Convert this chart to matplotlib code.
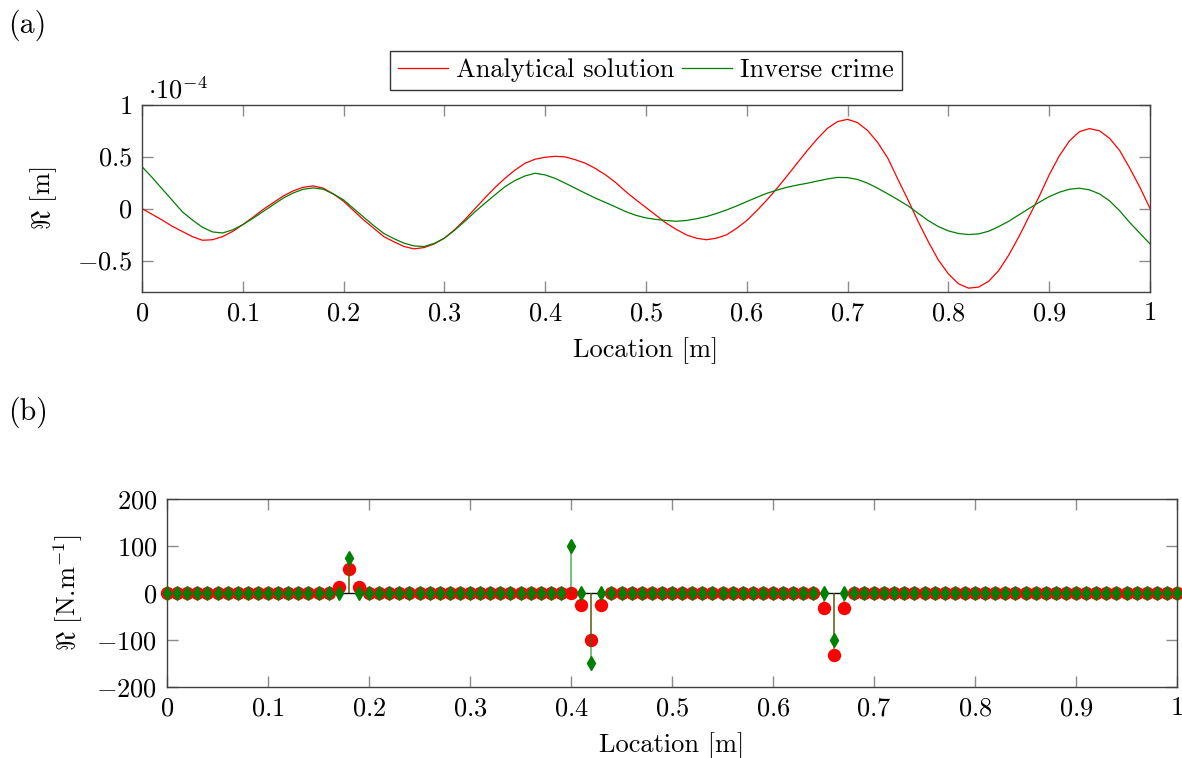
import numpy as np
import matplotlib
matplotlib.use("Agg")
import matplotlib.pyplot as plt
from matplotlib.ticker import FuncFormatter, MultipleLocator

plt.rcParams["font.family"] = "serif"
plt.rcParams["font.serif"] = ["cmr10"]
plt.rcParams["mathtext.fontset"] = "cm"
plt.rcParams["axes.formatter.use_mathtext"] = True
plt.rcParams["font.size"] = 19

# (a) displacement at x = 0, 0.01, ..., 1 ; values in units of 1e-4 m
location = [i / 100 for i in range(101)]
analytical = [0.00, -0.055, -0.11, -0.17, -0.22, -0.27, -0.305, -0.30, -0.27, -0.22,
              -0.155, -0.085, -0.01, 0.055, 0.12, 0.17, 0.205, 0.218, 0.196, 0.14,
              0.07, -0.02, -0.11, -0.19, -0.27, -0.32, -0.365, -0.388, -0.375, -0.34,
              -0.285, -0.205, -0.11, -0.005, 0.10, 0.20, 0.29, 0.37, 0.436, 0.475,
              0.494, 0.503, 0.497, 0.47, 0.436, 0.385, 0.324, 0.25, 0.163, 0.085,
              0.01, -0.065, -0.14, -0.20, -0.253, -0.285, -0.30, -0.285, -0.253, -0.19,
              -0.115, -0.02, 0.083, 0.195, 0.314, 0.437, 0.558, 0.672, 0.772, 0.837,
              0.859, 0.827, 0.75, 0.635, 0.484, 0.28, 0.083, -0.125, -0.317, -0.494,
              -0.628, -0.724, -0.766, -0.756, -0.70, -0.596, -0.446, -0.27, -0.077, 0.115,
              0.324, 0.506, 0.65, 0.74, 0.77, 0.748, 0.676, 0.558, 0.388, 0.205,
              0.003]
inverse = [0.404, 0.30, 0.19, 0.08, -0.03, -0.11, -0.18, -0.225, -0.235, -0.205,
           -0.155, -0.095, -0.03, 0.035, 0.10, 0.15, 0.186, 0.199, 0.186, 0.14,
           0.083, 0.0, -0.083, -0.165, -0.24, -0.29, -0.333, -0.36, -0.365, -0.335,
           -0.285, -0.21, -0.125, -0.035, 0.05, 0.13, 0.21, 0.27, 0.314, 0.34,
           0.324, 0.29, 0.244, 0.195, 0.147, 0.10, 0.058, 0.015, -0.03, -0.065,
           -0.09, -0.105, -0.115, -0.122, -0.115, -0.098, -0.077, -0.047, -0.013, 0.025,
           0.067, 0.108, 0.147, 0.178, 0.205, 0.226, 0.244, 0.265, 0.285, 0.30,
           0.298, 0.28, 0.244, 0.195, 0.141, 0.085, 0.026, -0.045, -0.115, -0.173,
           -0.215, -0.24, -0.25, -0.244, -0.218, -0.173, -0.122, -0.06, 0.0, 0.06,
           0.115, 0.157, 0.186, 0.196, 0.18, 0.141, 0.074, -0.022, -0.135, -0.237,
           -0.34]

# (b) force at the 101 nodes; zero except at these nodes
nodes = [i / 100 for i in range(101)]
analytical_spike_at = [0.17, 0.18, 0.19, 0.41, 0.42, 0.43, 0.65, 0.66, 0.67]
analytical_spike_val = [13, 51, 13, -25, -100, -25, -32, -132, -32]
inverse_spike_at = [0.18, 0.40, 0.42, 0.66]
inverse_spike_val = [75, 100, -150, -100]

RED = "#ff0000"
GREEN = "#008000"

fmt = FuncFormatter(lambda v, p: "$%g$" % round(v, 6))


def style_axes(ax):
    ax.tick_params(direction="in", which="both", top=True, right=True,
                   length=8, width=1, color="0.55", pad=7)
    for s in ax.spines.values():
        s.set_color("0.25")
        s.set_linewidth(1.0)
    ax.xaxis.set_major_formatter(fmt)
    ax.yaxis.set_major_formatter(fmt)
    ax.xaxis.set_major_locator(MultipleLocator(0.1))


fig = plt.figure(figsize=(11.82, 7.58), dpi=100)

# ---- panel (a)
ax1 = fig.add_axes([0.1201, 0.6152, 0.8528, 0.2467])
ax1.plot(location, analytical, color=RED, lw=0.9, label="Analytical solution")
ax1.plot(location, inverse, color=GREEN, lw=0.9, label="Inverse crime")
ax1.set_xlim(0, 1)
ax1.set_ylim(-0.8, 1.0)
ax1.set_yticks([-0.5, 0, 0.5, 1])
style_axes(ax1)
ax1.set_xlabel("Location [m]", labelpad=9)
ax1.set_ylabel(r"$\Re$ [m]")
ax1.yaxis.set_label_coords(-0.082, 0.5)
ax1.text(0.006, 1.005, r"$\cdot 10^{-4}$", transform=ax1.transAxes,
         ha="left", va="bottom")
ax1.legend(loc="lower center", bbox_to_anchor=(0.5, 1.078), ncol=2,
           frameon=True, fancybox=False, edgecolor="0.2", framealpha=1,
           handlelength=1.9, handletextpad=0.3, columnspacing=0.3,
           borderpad=0.3, borderaxespad=0)

# ---- panel (b)
ax2 = fig.add_axes([0.1413, 0.0941, 0.8545, 0.2472])
an_force = np.zeros(len(nodes))
inv_force = np.zeros(len(nodes))
for p, v in zip(analytical_spike_at, analytical_spike_val):
    an_force[int(round(p * 100))] = v
for p, v in zip(inverse_spike_at, inverse_spike_val):
    inv_force[int(round(p * 100))] = v

ax2.axhline(0, color="black", lw=1, zorder=1)
ax2.vlines(nodes, 0, an_force, color=RED, lw=1.2, alpha=0.6, zorder=2)
ax2.plot(nodes, an_force, "o", color=RED, ms=8.6, mec=RED, clip_on=False, zorder=3)
ax2.vlines(nodes, 0, inv_force, color=GREEN, lw=1.2, alpha=0.6, zorder=4)
ax2.plot(nodes, inv_force, "d", color=GREEN, ms=7.5, mec=GREEN, clip_on=False, zorder=5)
ax2.set_xlim(0, 1)
ax2.set_ylim(-200, 200)
ax2.set_yticks([-200, -100, 0, 100, 200])
style_axes(ax2)
ax2.set_xlabel("Location [m]", labelpad=9)
ax2.set_ylabel(r"$\Re$ [N.m$^{-1}$]")
ax2.yaxis.set_label_coords(-0.081, 0.5)

fig.text(0.007, 0.967, "(a)", ha="left", va="center", fontsize=21.5)
fig.text(0.007, 0.456, "(b)", ha="left", va="center", fontsize=21.5)

fig.savefig("out.png", dpi=100)
